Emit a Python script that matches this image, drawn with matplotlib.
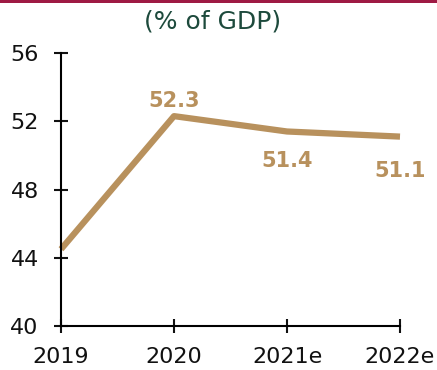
import matplotlib
matplotlib.use('Agg')
import matplotlib.pyplot as plt
from matplotlib.patches import Rectangle

years = ['2019', '2020', '2021e', '2022e']
values = [44.5, 52.3, 51.4, 51.1]
labels = ['', '52.3', '51.4', '51.1']
yticks = [40, 44, 48, 52, 56]

line_col = '#b8915d'
plt.rcParams['font.family'] = ['DejaVu Sans']

fig = plt.figure(figsize=(4.37, 3.70), dpi=100)
ax = fig.add_axes([61 / 437, 44 / 370, 339 / 437, 273 / 370])

x = list(range(len(years)))
ax.plot(x, values, color=line_col, lw=4.5, clip_on=False, solid_capstyle='butt',
        solid_joinstyle='round')

# value labels: above for 2020, below for the estimates
offsets = [0, 11, -21.5, -25]
for xi, v, lab, off in zip(x, values, labels, offsets):
    if lab:
        ax.annotate(lab, (xi, v), xytext=(0, off), textcoords='offset points',
                    ha='center', va='center', fontsize=15, fontweight='bold',
                    color=line_col)

ax.set_xlim(0, 3)
ax.set_ylim(40, 56)
ax.set_xticks(x)
ax.set_xticklabels(years)
ax.set_yticks(yticks)
for s in ['top', 'right']:
    ax.spines[s].set_visible(False)
for s in ['left', 'bottom']:
    ax.spines[s].set_linewidth(1.5)
ax.tick_params(direction='inout', length=10, width=1.5, labelsize=16,
               colors='#111111')
ax.tick_params(axis='y', pad=11)
ax.tick_params(axis='x', pad=10)

fig.text(213 / 437, 1 - 22 / 370, '(% of GDP)', ha='center', va='center',
         fontsize=18, color='#1d4a3c')
fig.add_artist(Rectangle((0, 1 - 3 / 370), 1, 3 / 370, transform=fig.transFigure,
                         color='#9e1a44', lw=0))

fig.savefig('out.png', dpi=100)
